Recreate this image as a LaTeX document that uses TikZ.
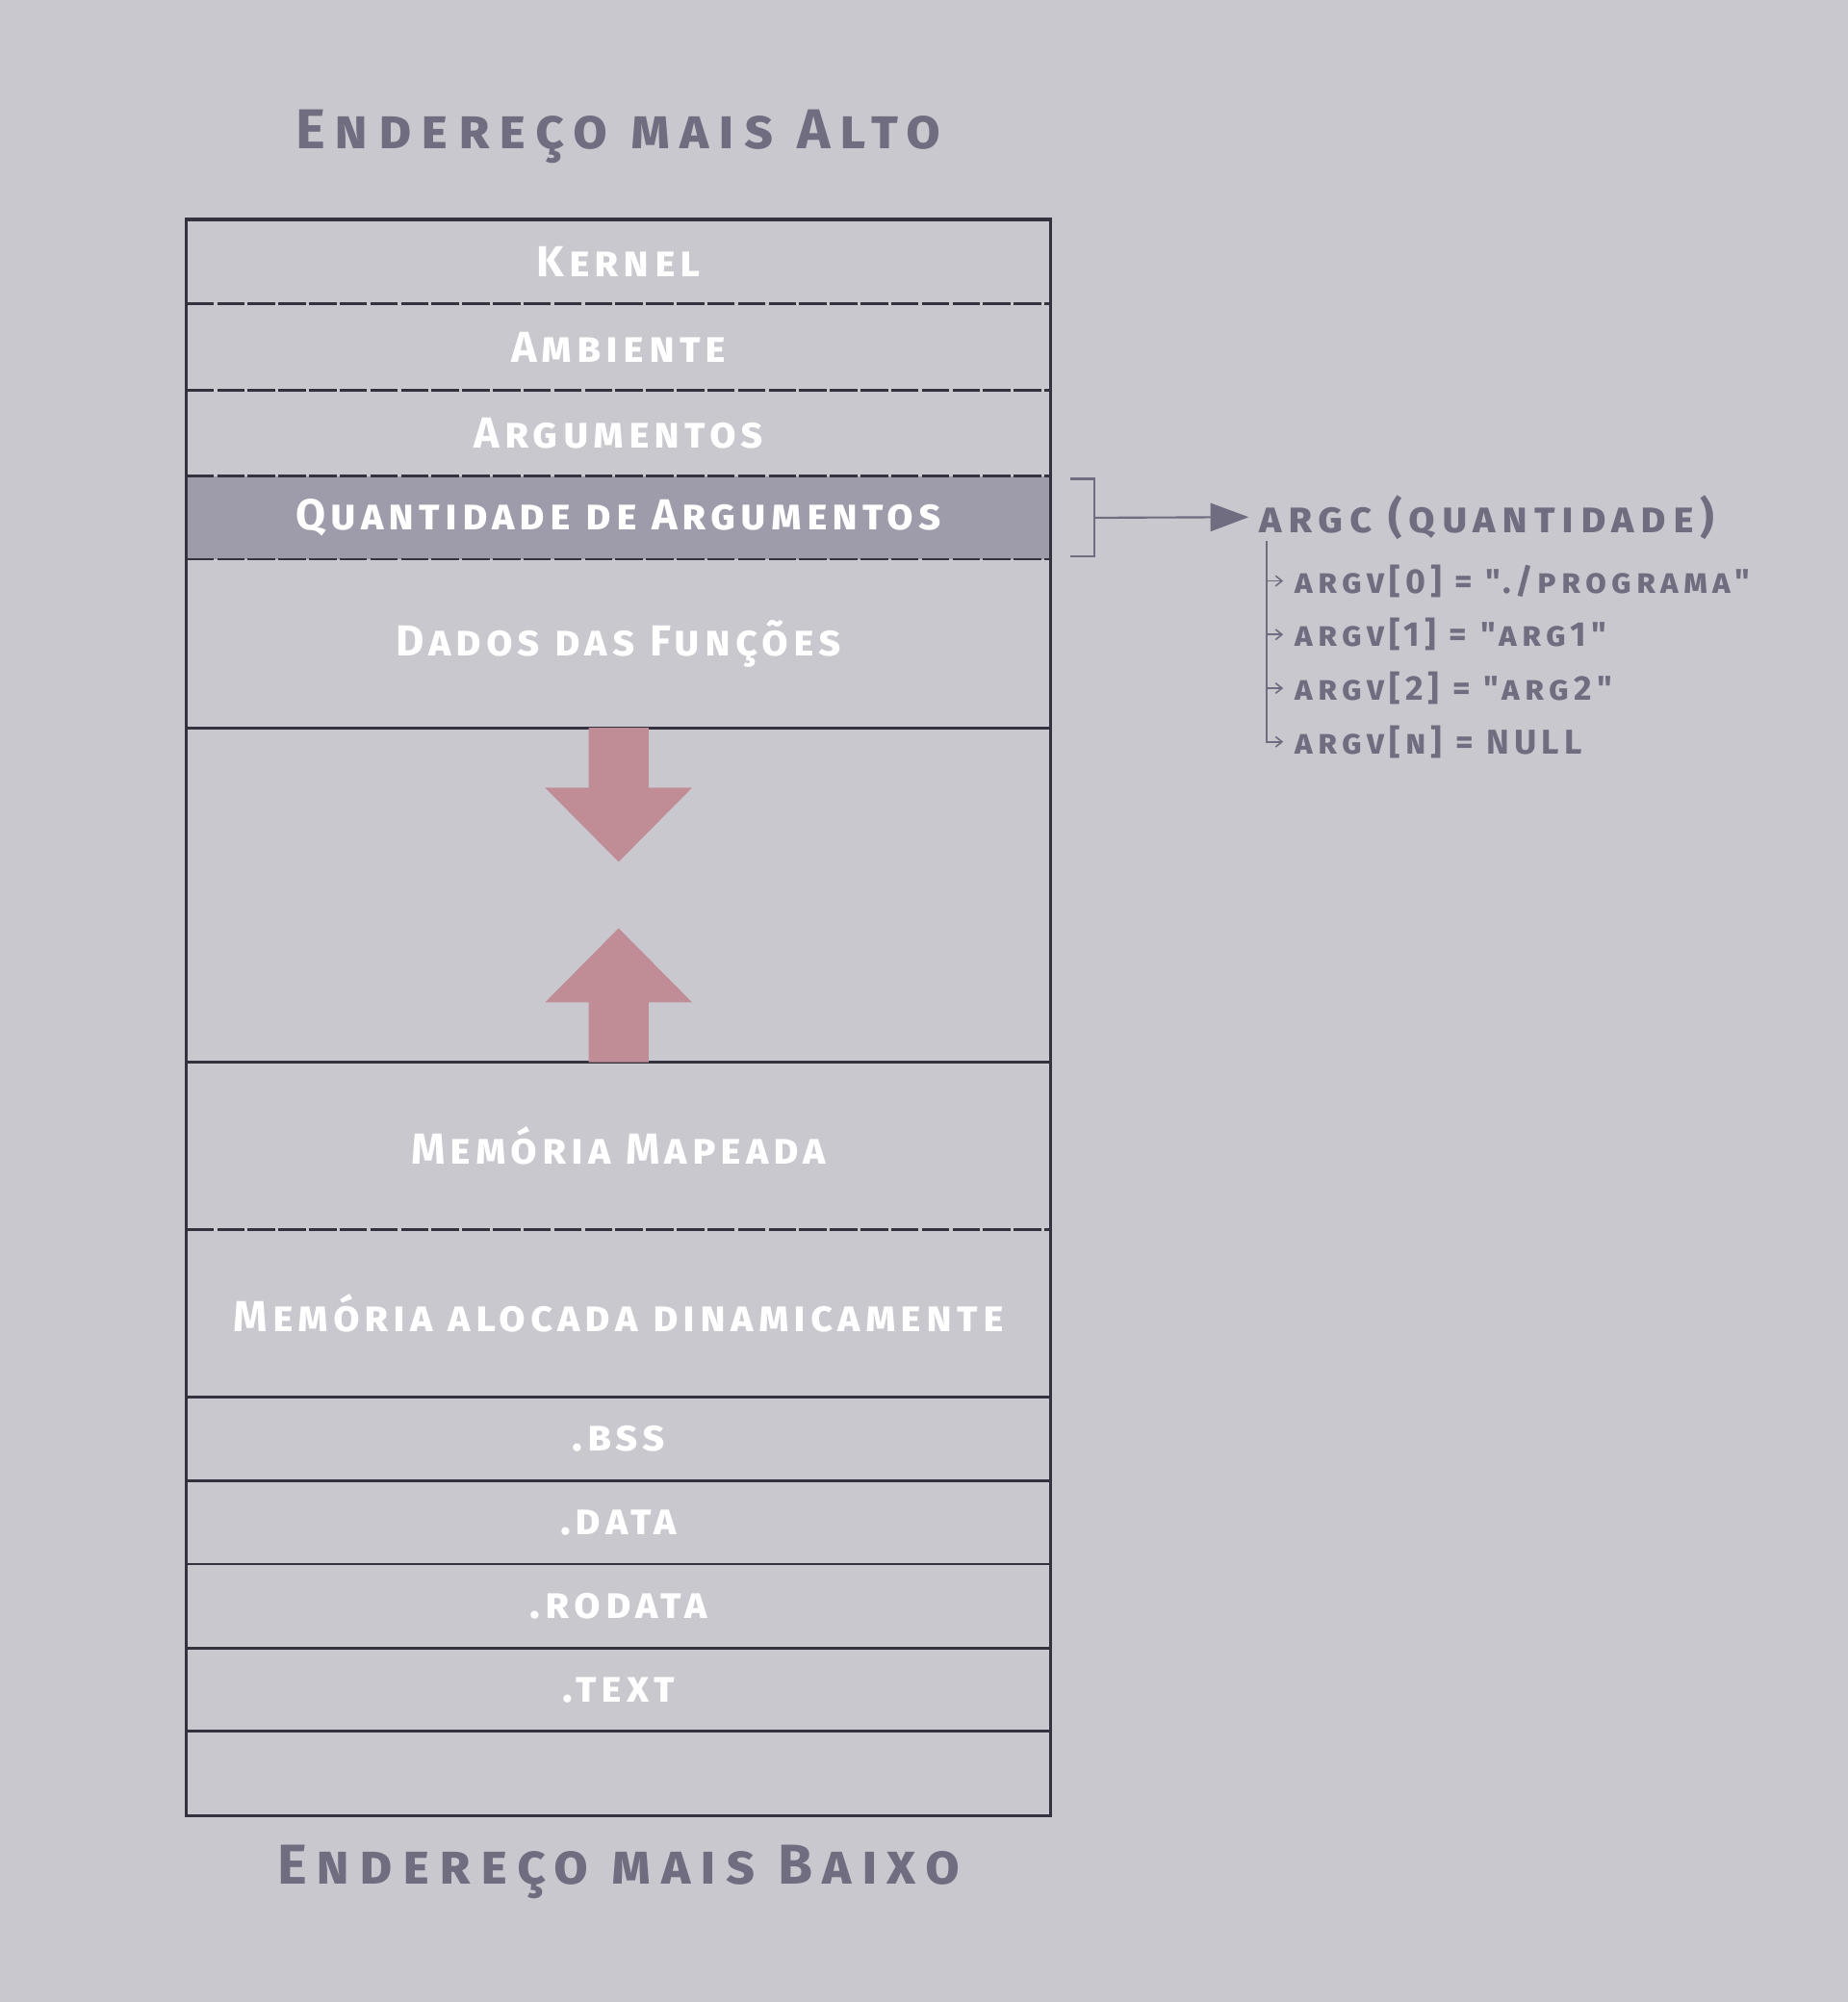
\documentclass[tikz,border=0pt]{standalone}
\usepackage{fontspec}
\setmainfont{Fira Sans}
\newfontfamily\pixelfont{Fira Sans}[Letters=SmallCaps, LetterSpace=11]
\newfontfamily\pixelwide{Fira Sans}[Letters=SmallCaps, LetterSpace=14.5]
\newfontfamily\pixeltitle{Fira Sans}[Letters=SmallCaps, LetterSpace=17.5]
\usetikzlibrary{positioning,arrows.meta}

\definecolor{fundo}{HTML}{C8C8CE}
\definecolor{linha}{HTML}{34323F}
\definecolor{destaque}{HTML}{9E9CAB}
\definecolor{rosa}{HTML}{C08D97}
\definecolor{cinza}{HTML}{6F6D7F}

\begin{document}
\begin{tikzpicture}[
    x=0.5pt, y=-0.5pt,
    seg/.style={minimum width=338.5pt, inner sep=0pt, outer sep=0pt, text=white,
      font=\pixelfont\bfseries\fontsize{17}{20}\selectfont},
    titulo/.style={text=cinza, font=\pixeltitle\bfseries\fontsize{22}{26}\selectfont},
    divisa/.style={draw=linha, line width=1.1pt, dash pattern=on 10.75pt off 1.25pt},
    solida/.style={draw=linha, line width=1.1pt},
    borda/.style={draw=linha, line width=1.3pt},
    seta/.style={fill=rosa},
    chavestyle/.style={draw=cinza, line width=0.8pt},
    ramo/.style={-{Straight Barb[length=2.5pt,width=4pt]}, draw=cinza, line width=0.6pt},
    argc/.style={text=cinza, anchor=west, inner xsep=4pt, inner ysep=0pt,
      font=\pixelwide\bfseries\fontsize{17}{20}\selectfont},
    argv/.style={text=cinza, anchor=west, inner xsep=4.5pt, inner ysep=0pt,
      font=\pixelwide\bfseries\fontsize{13.5}{16}\selectfont}
]

\fill[fundo] (0,0) rectangle (1447,1568);

\node[titulo] (alto) at (484.5,107) {Endereço mais Alto};

\node[seg, minimum height=33pt, anchor=north] (kernel) at (484.5,172) {Kernel};
\node[seg, minimum height=34pt, below=0pt of kernel] (ambiente) {Ambiente};
\node[seg, minimum height=33.5pt, below=0pt of ambiente] (argumentos) {Argumentos};
\node[seg, minimum height=32.5pt, below=0pt of argumentos, fill=destaque] (quantidade) {Quantidade de Argumentos};
\node[seg, minimum height=66pt, below=0pt of quantidade] (dados) {Dados das Funções};
\node[seg, minimum height=131pt, below=0pt of dados] (livre) {};
\node[seg, minimum height=65.5pt, below=0pt of livre] (mapeada) {Memória Mapeada};
\node[seg, minimum height=65.5pt, below=0pt of mapeada] (dinamica) {Memória alocada dinamicamente};
\node[seg, minimum height=33pt, below=0pt of dinamica] (bss) {.bss};
\node[seg, minimum height=32.5pt, below=0pt of bss] (data) {.data};
\node[seg, minimum height=33pt, below=0pt of data] (rodata) {.rodata};
\node[seg, minimum height=32.5pt, below=0pt of rodata] (txt) {.text};
\node[seg, minimum height=33pt, below=0pt of txt] (vazio) {};

\foreach \n in {kernel,ambiente,argumentos,quantidade,mapeada}{
  \draw[divisa] (\n.south west) -- (\n.south east);
}
\foreach \n in {dados,livre,dinamica,bss,data,rodata,txt}{
  \draw[solida] (\n.south west) -- (\n.south east);
}
\draw[borda] (kernel.north west) rectangle (vazio.south east);

\fill[seta] (livre.north) ++(-23.5,0) -- ++(47,0) -- ++(0,47) -- ++(34,0)
  -- ++(-57.5,58) -- ++(-57.5,-58) -- ++(34,0) -- cycle;
\fill[seta] (livre.south) ++(-23.5,0) -- ++(47,0) -- ++(0,-47) -- ++(34,0)
  -- ++(-57.5,-58) -- ++(-57.5,58) -- ++(34,0) -- cycle;

\node[titulo] (baixo) at (484.5,1466) {Endereço mais Baixo};

\coordinate (chave) at (857,405.5);
\draw[chavestyle] (chave) ++(-19,-30.5) -- ++(19,0) -- ++(0,61) -- ++(-19,0);

\node[argc] (argcno) at (978,405) {argc (quantidade)};
\draw[chavestyle, -{Triangle[length=15pt,width=11pt]}] (chave) -- (argcno.west);

\coordinate (tronco) at (992,424);
\node[argv] (argv0) at (1005,455) {argv[0] = "./programa"};
\node[argv] (argv1) at (1005,497) {argv[1] = "arg1"};
\node[argv] (argv2) at (1005,539) {argv[2] = "arg2"};
\node[argv] (argvn) at (1005,581) {argv[n] = NULL};

\foreach \n in {argv0,argv1,argv2,argvn}{
  \draw[ramo] (tronco) |- (\n.west);
}

\end{tikzpicture}
\end{document}
